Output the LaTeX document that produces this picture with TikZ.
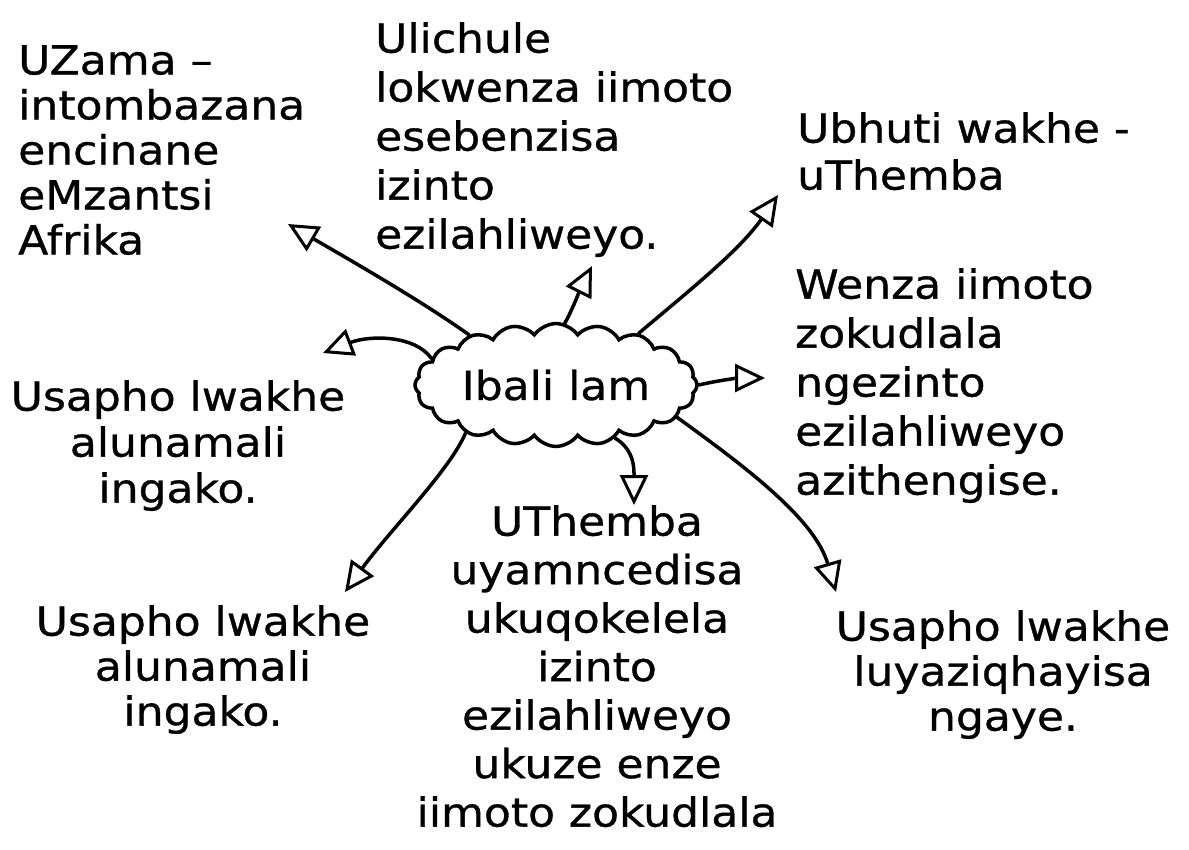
\documentclass[tikz,border=0pt]{standalone}
\usepackage{fontspec}
\setmainfont{DejaVu Sans}[FakeStretch=1.1,FakeBold=0.8]
\usetikzlibrary{arrows.meta,shapes.symbols}
\begin{document}
\begin{tikzpicture}[x=1pt,y=-1pt,
  txt/.style={inner sep=0pt, font=\fontsize{40}{48}\selectfont},
  conn/.style={line width=3.5pt, line cap=round, line join=round,
    -{Triangle[open,length=30pt,width=28pt,line width=3pt]}},
]
\useasboundingbox (0,0) rectangle (1189,849);
\fill[white] (0,0) rectangle (1189,849);

\node[cloud, draw, line width=3.5pt, cloud puffs=20, cloud puff arc=110, aspect=2.6,
  minimum width=282pt, minimum height=112pt, inner sep=0pt,
  font=\fontsize{40}{48}\selectfont] (c) at (556,385) {Ibali lam};

\node[txt, anchor=north west, align=left, font=\fontsize{40}{45}\selectfont] (n1) at (18,45)
  {UZama –\\intombazana\\encinane\\eMzantsi\\Afrika};
\node[txt, anchor=north west, align=left, font=\fontsize{40}{49}\selectfont] (n2) at (375,22)
  {Ulichule\\lokwenza iimoto\\esebenzisa\\izinto\\ezilahliweyo.};
\node[txt, anchor=north west, align=left, font=\fontsize{40}{47}\selectfont] (n3) at (797,112)
  {Ubhuti wakhe -\\uThemba};
\node[txt, anchor=north west, align=left, font=\fontsize{40}{49}\selectfont] (n4) at (795,268)
  {Wenza iimoto\\zokudlala\\ngezinto\\ezilahliweyo\\azithengise.};
\node[txt, anchor=north, align=center, font=\fontsize{40}{46}\selectfont] (n5) at (178,380)
  {Usapho lwakhe\\alunamali\\ingako.};
\node[txt, anchor=north, align=center, font=\fontsize{40}{45}\selectfont] (n6) at (203,605)
  {Usapho lwakhe\\alunamali\\ingako.};
\node[txt, anchor=north, align=center, font=\fontsize{40}{48.5}\selectfont] (n7) at (597,505)
  {UThemba\\uyamncedisa\\ukuqokelela\\izinto\\ezilahliweyo\\ukuze enze\\iimoto zokudlala};
\node[txt, anchor=north, align=center, font=\fontsize{40}{45}\selectfont] (n8) at (1003,610)
  {Usapho lwakhe\\luyaziqhayisa\\ngaye.};

\coordinate (t1) at (288,224);
\coordinate (t2) at (592,266);
\coordinate (t3) at (778,195);
\coordinate (t4) at (323,353);
\coordinate (t5) at (765,378);
\coordinate (t6) at (345,592);
\coordinate (t7) at (634,505);
\coordinate (t8) at (836,592);

\draw[conn] (c.150) .. controls (420,300) and (350,260) .. (t1);
\draw[conn] (c.82) .. controls (570,315) and (580,290) .. (t2);
\draw[conn] (c.32) .. controls (690,290) and (740,250) .. (t3);
\draw[conn] (c.168) .. controls (415,335) and (370,335) .. (t4);
\draw[conn] (c.0) .. controls (720,380) and (740,378) .. (t5);
\draw[conn] (c.208) .. controls (450,470) and (390,530) .. (t6);
\draw[conn] (c.318) .. controls (635,450) and (634,470) .. (t7);
\draw[conn] (c.345) .. controls (750,470) and (815,520) .. (t8);
\end{tikzpicture}
\end{document}
